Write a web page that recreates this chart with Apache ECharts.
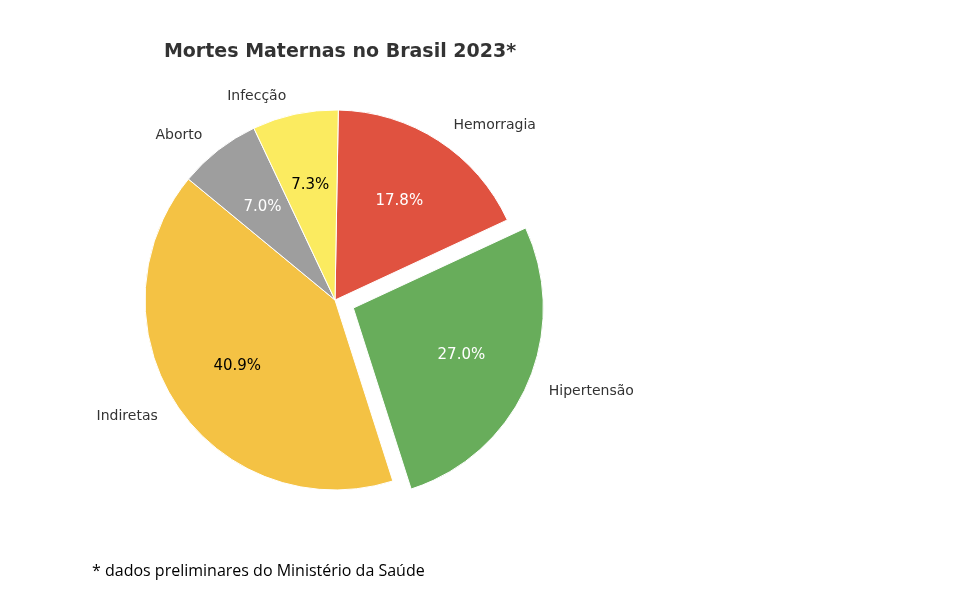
<!DOCTYPE html>
<html><head><meta charset="utf-8">
<script src="https://cdn.jsdelivr.net/npm/echarts@6/dist/echarts.min.js"></script>
<style>body{margin:0}#c{width:980px;height:612px}</style></head>
<body><div id="c"></div>
<script>
const categories = ['Hemorragia', 'Hipertensão', 'Indiretas', 'Aborto', 'Infecção'];
const values = [17.8, 27.0, 40.9, 7.0, 7.3];
const colors = ['#e05240', '#68ad5b', '#f4c244', '#9e9e9e', '#fbeb60'];
const pctColors = ['#fff', '#fff', '#000', '#fff', '#000'];
const exploded = 'Hipertensão';

const chart = echarts.init(document.getElementById('c'));
const mk = (i) => ({ name: categories[i], value: values[i], selected: categories[i] === exploded });
const base = { type: 'pie', center: [335, 300], startAngle: 89, clockwise: true,
  selectedMode: 'multiple', selectedOffset: 20, animation: false, silent: true };
chart.setOption({
  title: { text: 'Mortes Maternas no Brasil 2023*', left: 335, top: 38, textAlign: 'center',
    textStyle: { fontFamily: 'DejaVu Sans', fontSize: 19, fontWeight: 'bold', color: '#333' } },
  graphic: [{ type: 'text', left: 92, top: 563,
    style: { text: '* dados preliminares do Ministério da Saúde', font: '16px "Open Sans"', fill: '#000' } }],
  series: [
    Object.assign({}, base, { radius: 190,
      data: categories.map((c, i) => Object.assign(mk(i), { itemStyle: { color: colors[i], borderColor: '#fff', borderWidth: 1 } })),
      label: { show: false }, labelLine: { show: false } }),
    Object.assign({}, base, { radius: 230, z: 3,
      data: categories.map((c, i) => Object.assign(mk(i), { itemStyle: { color: 'rgba(0,0,0,0)' },
        label: { color: pctColors[i] } })),
      label: { show: true, position: 'inside', fontFamily: 'DejaVu Sans', fontSize: 15,
        formatter: p => p.value.toFixed(1) + '%' },
      labelLine: { show: false } }),
    Object.assign({}, base, { radius: 190, z: 3,
      data: categories.map((c, i) => Object.assign(mk(i), { itemStyle: { color: 'rgba(0,0,0,0)' } })),
      label: { show: true, position: 'outside', fontFamily: 'DejaVu Sans', fontSize: 14, color: '#333' },
      labelLine: { show: false, length: 18, length2: 0 } })
  ]
});
</script></body></html>
